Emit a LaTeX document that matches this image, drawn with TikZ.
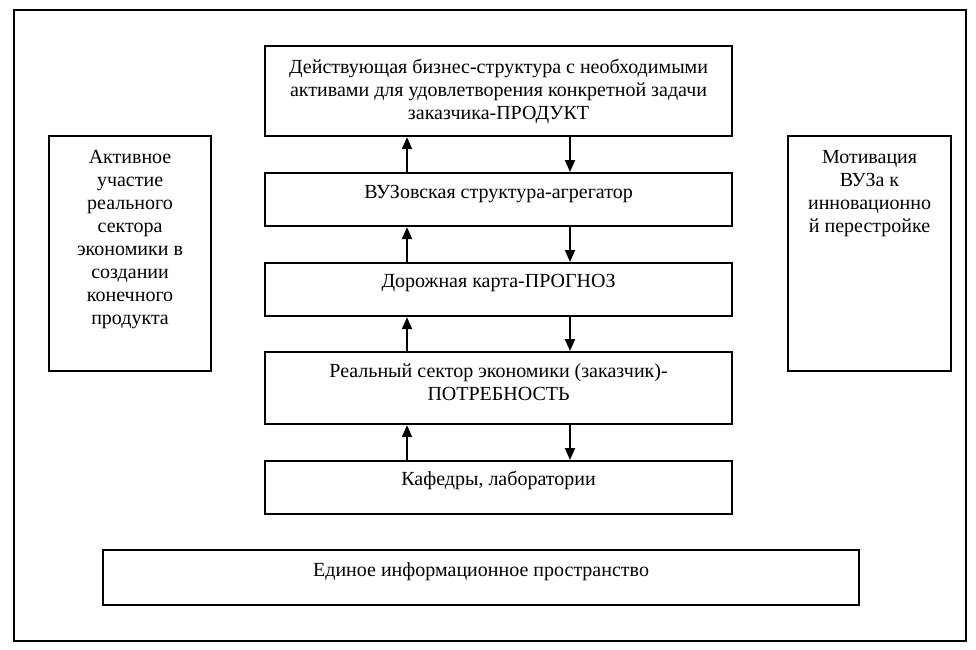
\documentclass[tikz,border=0pt]{standalone}
\usepackage{fontspec}
\setmainfont{Liberation Serif}
\usetikzlibrary{arrows.meta,calc}
\tikzset{
  box/.style={draw, line width=1.6pt, rectangle, inner sep=0pt, anchor=north west},
  lbl/.style={font=\fontsize{15}{17.3}\selectfont, align=center, inner sep=0pt, anchor=north},
  arr/.style={line width=1.5pt, -{Triangle[width=7.5pt,length=9pt]}},
}
\begin{document}
\begin{tikzpicture}[x=0.75pt,y=-0.75pt]
\useasboundingbox (0,0) rectangle (976,650);
\node[box, minimum width=952*0.75pt, minimum height=631*0.75pt] (frame) at (13,9) {};
% central column
\node[box, minimum width=467*0.75pt, minimum height=90*0.75pt] (top) at (264,45) {};
\node[box, minimum width=467*0.75pt, minimum height=53*0.75pt] (vuz) at (264,172) {};
\node[box, minimum width=467*0.75pt, minimum height=53*0.75pt] (road) at (264,262) {};
\node[box, minimum width=467*0.75pt, minimum height=72*0.75pt] (real) at (264,351) {};
\node[box, minimum width=467*0.75pt, minimum height=53*0.75pt] (kaf) at (264,460) {};
% side boxes
\node[box, minimum width=162*0.75pt, minimum height=235*0.75pt] (left) at (48,135) {};
\node[box, minimum width=163*0.75pt, minimum height=235*0.75pt] (right) at (787,135) {};
% bottom
\node[box, minimum width=756*0.75pt, minimum height=55*0.75pt] (info) at (102,549) {};
% texts
\node[lbl] (ttop) at ($(top.north)+(0,14)$) {Действующая бизнес-структура с необходимыми\\активами для удовлетворения конкретной задачи\\заказчика-ПРОДУКТ};
\node[lbl] (tvuz) at ($(vuz.north)+(0,13)$) {ВУЗовская структура-агрегатор};
\node[lbl] (troad) at ($(road.north)+(0,12)$) {Дорожная карта-ПРОГНОЗ};
\node[lbl] (treal) at ($(real.north)+(0,12)$) {Реальный сектор экономики (заказчик)-\\ПОТРЕБНОСТЬ};
\node[lbl] (tkaf) at ($(kaf.north)+(0,11)$) {Кафедры, лаборатории};
\node[lbl] (tleft) at ($(left.north)+(0,15)$) {Активное\\участие\\реального\\сектора\\экономики в\\создании\\конечного\\продукта};
\node[lbl] (tright) at ($(right.north)+(0,15)$) {Мотивация\\ВУЗа к\\инновационно\\й перестройке};
\node[lbl] (tinfo) at ($(info.north)+(0,13)$) {Единое информационное пространство};
% arrows up (x=407) and down (x=570)
\draw[arr] ($(vuz.north west)+(143,0)$) -- ($(top.south west)+(143,0)$);
\draw[arr] ($(top.south west)+(306,0)$) -- ($(vuz.north west)+(306,0)$);
\draw[arr] ($(road.north west)+(143,0)$) -- ($(vuz.south west)+(143,0)$);
\draw[arr] ($(vuz.south west)+(306,0)$) -- ($(road.north west)+(306,0)$);
\draw[arr] ($(real.north west)+(143,0)$) -- ($(road.south west)+(143,0)$);
\draw[arr] ($(road.south west)+(306,0)$) -- ($(real.north west)+(306,0)$);
\draw[arr] ($(kaf.north west)+(143,0)$) -- ($(real.south west)+(143,0)$);
\draw[arr] ($(real.south west)+(306,0)$) -- ($(kaf.north west)+(306,0)$);
\end{tikzpicture}
\end{document}
